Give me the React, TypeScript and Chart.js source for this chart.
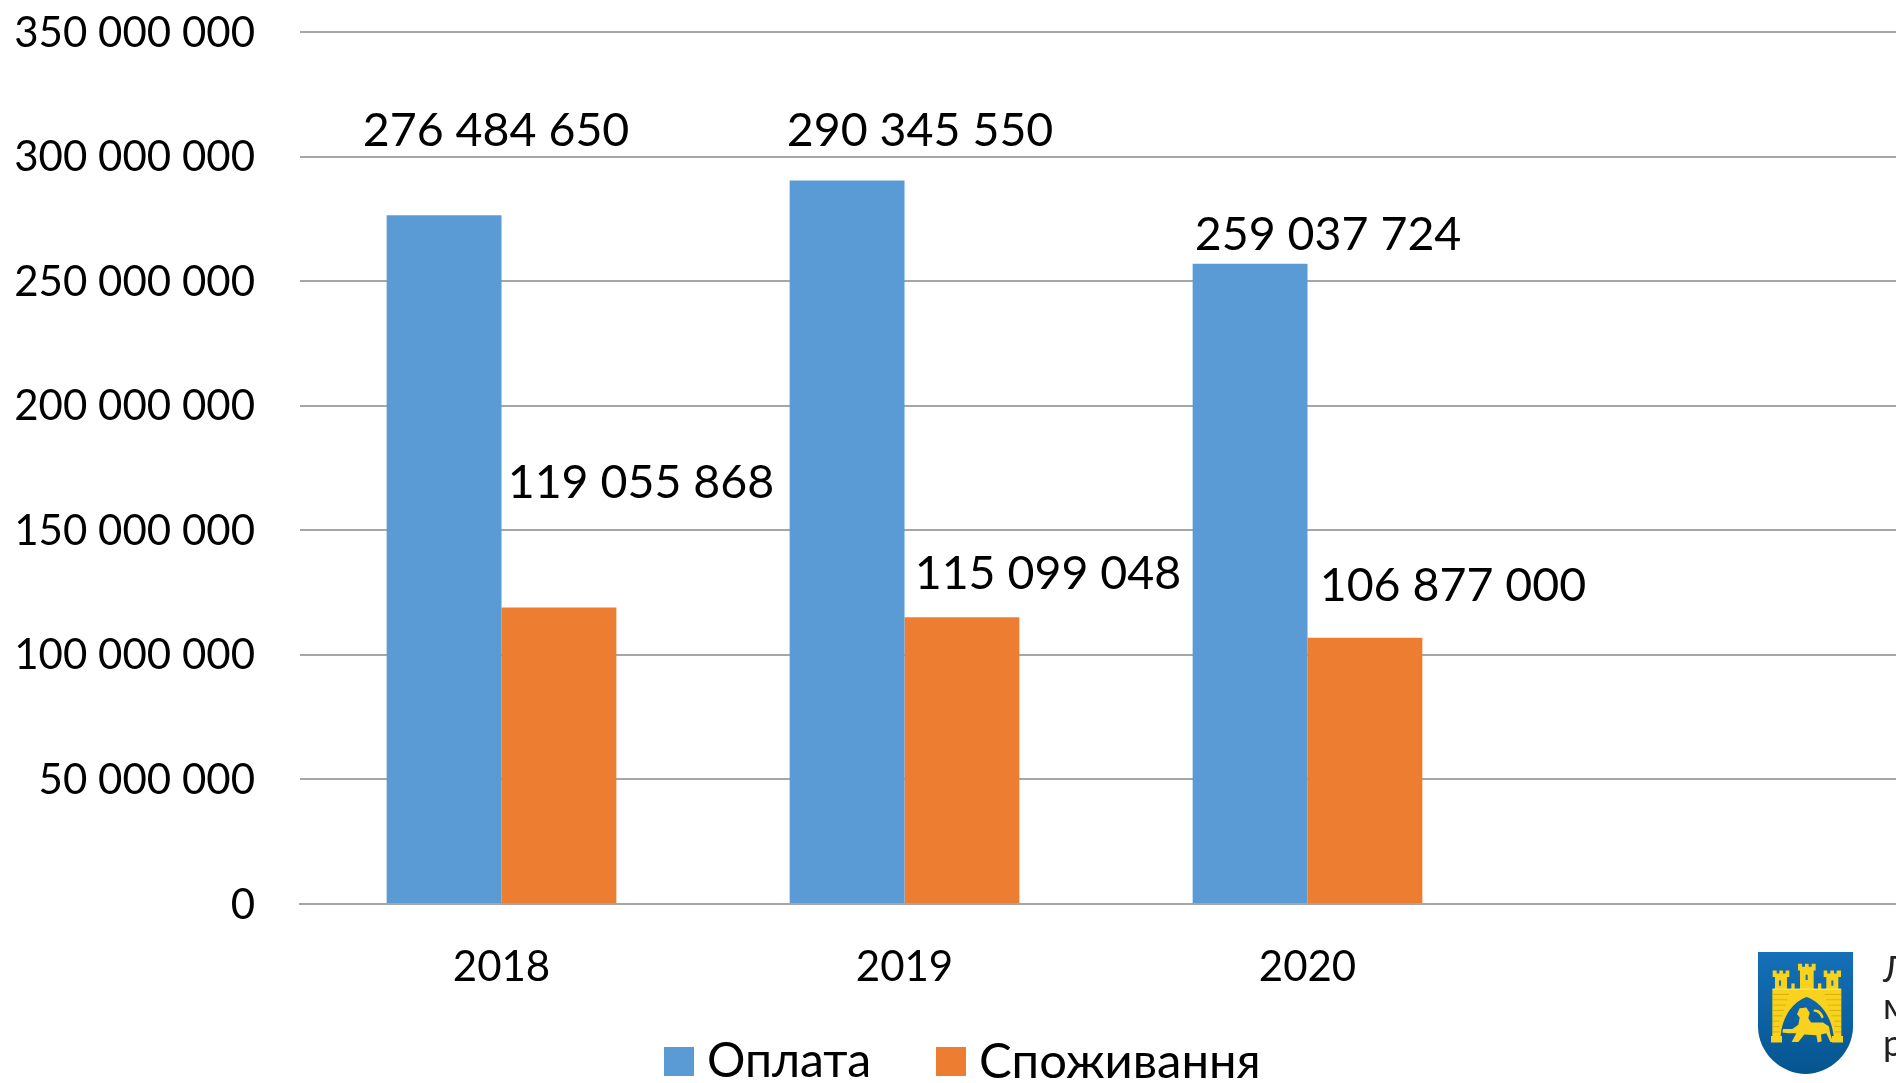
import React, { useEffect, useRef } from "react";
import { Chart, registerables } from "chart.js";

Chart.register(...registerables);

const categories = ["2018", "2019", "2020", ""];
const paymentValues = [276484650, 290345550, 257000000, null];
const consumptionValues = [119055868, 115099048, 106877000, null];
const paymentLabels = ["276 484 650", "290 345 550", "259 037 724"];
const consumptionLabels = ["119 055 868", "115 099 048", "106 877 000"];
const paymentLabelOffsets = [[52, -84], [73, -50], [78, -29]];
const consumptionLabelOffsets = [[82, -124], [86, -43], [88, -52]];
const seriesNames = ["Оплата", "Споживання"];
const seriesColors = ["#5B9BD5", "#ED7D31"];
const FONT = "Lato, sans-serif";

const labelPlugin = {
  id: "valueLabels",
  afterDatasetsDraw(chart: any) {
    const ctx = chart.ctx;
    ctx.save();
    ctx.font = `46.5px ${FONT}`;
    ctx.fillStyle = "#000";
    ctx.textAlign = "center";
    ctx.textBaseline = "middle";
    [[paymentLabels, paymentLabelOffsets], [consumptionLabels, consumptionLabelOffsets]].forEach(([texts, offs]: any, d) => {
      const bars = chart.getDatasetMeta(d).data;
      texts.forEach((t: string, i: number) => {
        ctx.fillText(t, bars[i].x + offs[i][0], bars[i].y + offs[i][1]);
      });
    });
    ctx.restore();
  },
};

const legendPlugin = {
  id: "bottomLegend",
  afterDraw(chart: any) {
    const ctx = chart.ctx;
    const xs = [664, 936];
    const sizes = [48, 49];
    ctx.save();
    ctx.textBaseline = "middle";
    ctx.textAlign = "left";
    chart.data.datasets.forEach((ds: any, i: number) => {
      ctx.font = `${sizes[i]}px ${FONT}`;
      ctx.fillStyle = ds.backgroundColor;
      ctx.fillRect(xs[i], 1047, 30, 29);
      ctx.fillStyle = "#000";
      ctx.fillText(ds.label, xs[i] + 43, 1062);
    });
    ctx.restore();
  },
};

function Crest() {
  const rows = [224, 240, 256, 272, 288, 304, 320, 336];
  return (
    <svg style={{ position: "absolute", left: 1758, top: 952, width: 95, height: 122 }} viewBox="175 97 285 365" preserveAspectRatio="none">
      <defs>
        <linearGradient id="sh" x1="0" y1="0" x2="0" y2="1">
          <stop offset="0" stopColor="#1470b8" />
          <stop offset="1" stopColor="#05558f" />
        </linearGradient>
      </defs>
      <path d="M175 97H460V320C460 400 390 462 318 462C245 462 175 400 175 320Z" fill="url(#sh)" />
      <g fill="#f8d21c">
        <path d="M219 152h12v9h8v-9h11v9h8v-9h11v20h-7v38h-36v-38h-7z" />
        <path d="M295 132h12v9h9v-9h11v9h9v-9h12v20h-6v58h-41v-58h-6z" />
        <path d="M372 152h11v9h9v-9h11v9h8v-9h13v20h-8v38h-36v-38h-8z" />
        <rect x="275" y="191" width="10" height="19" />
        <rect x="355" y="191" width="10" height="19" />
        <path d="M218 207H425V348H430V368H397V348H402C396 290 362 246 321 232C280 246 248 290 243 348H247V368H214V348H218Z" />
        <path d="M250 327l28 0 18-12 4-22-8-10 8-18 20-2 10 16-4 16 8 13 36 0 18 12 4 22 8 24-8 0-12-26-16 4 2 20-12 4-4-22-36-2-18 22-20 0 14-26-24 0-18-2z" />
        <path d="M372 292c-4-14-16-26-30-22l0 6c10-2 20 8 24 20z" />
      </g>
      <g stroke="#c9a20f" strokeWidth="2" fill="none">
        {rows.map((y) => <path key={y} d={`M220 ${y}H${y < 290 ? 268 - (y - 224) * 0.3 : 240}M${y < 290 ? 375 + (y - 224) * 0.3 : 404} ${y}H424`} />)}
        <path d="M219 208H424" stroke="#fff3a0" />
        <rect x="238" y="182" width="6" height="16" fill="#1470b8" stroke="none" />
        <rect x="318" y="165" width="6" height="16" fill="#1470b8" stroke="none" />
        <rect x="395" y="182" width="6" height="16" fill="#1470b8" stroke="none" />
      </g>
    </svg>
  );
}

export default function App() {
  const ref = useRef<HTMLCanvasElement>(null);
  useEffect(() => {
    const chart = new Chart(ref.current!, {
      type: "bar",
      data: {
        labels: categories,
        datasets: [
          { label: seriesNames[0], data: paymentValues, backgroundColor: seriesColors[0], barPercentage: 1, categoryPercentage: 0.57 },
          { label: seriesNames[1], data: consumptionValues, backgroundColor: seriesColors[1], barPercentage: 1, categoryPercentage: 0.57 },
        ],
      } as any,
      options: {
        animation: false,
        responsive: false,
        layout: { autoPadding: false, padding: { top: 32, right: 0, left: 0, bottom: 0 } },
        plugins: { legend: { display: false }, tooltip: { enabled: false }, title: { display: false } },
        scales: {
          x: {
            afterFit(s: any) { s.height = 179; s.paddingLeft = 0; s.paddingRight = 0; },
            grid: { display: false },
            border: { color: "#a6a6a6", width: 2 },
            ticks: { color: "#000", font: { family: FONT, size: 42 }, padding: 30, maxRotation: 0 },
          },
          y: {
            min: 0,
            max: 350000000,
            afterFit(s: any) { s.width = 300; s.paddingTop = 0; s.paddingBottom = 0; },
            border: { display: false },
            grid: { color: "#a6a6a6", lineWidth: 2, drawTicks: false },
            ticks: {
              stepSize: 50000000,
              color: "#000",
              padding: 45,
              labelOffset: 1,
              font: { family: FONT, size: 42 },
              callback: (v: any) => String(v).replace(/\B(?=(\d{3})+$)/g, " "),
            },
          },
        },
      },
      plugins: [labelPlugin, legendPlugin],
    } as any);
    return () => chart.destroy();
  }, []);
  const lineStyle: React.CSSProperties = { position: "absolute", left: 1883, fontFamily: "Lato, sans-serif", fontSize: 36, color: "#222", lineHeight: "37px", whiteSpace: "nowrap" };
  return (
    <div style={{ position: "fixed", left: 0, top: 0, width: 1896, height: 1083, overflow: "hidden", background: "#fff" }}>
      <canvas ref={ref} width={1912} height={1083} style={{ display: "block", width: 1912, height: 1083 }} />
      <Crest />
      <div style={{ ...lineStyle, top: 950 }}>Львівська</div>
      <div style={{ ...lineStyle, top: 987 }}>міська</div>
      <div style={{ ...lineStyle, top: 1024 }}>рада</div>
    </div>
  );
}
